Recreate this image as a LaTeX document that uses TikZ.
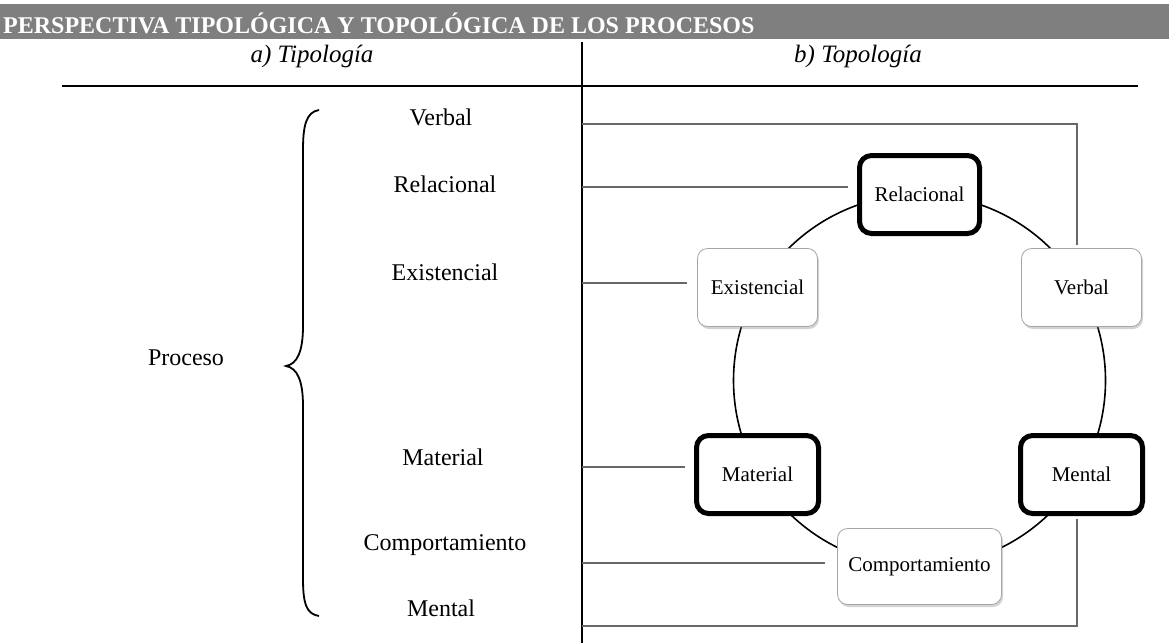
\documentclass[tikz,border=0pt]{standalone}
\usepackage{fontspec}
\setmainfont{Liberation Serif}
\usetikzlibrary{shadows,calc}
\definecolor{bargray}{HTML}{7F7F7F}
\definecolor{linkgray}{HTML}{686868}
\definecolor{softedge}{HTML}{A6A6A6}
\begin{document}
\begin{tikzpicture}[x=1pt,y=-1pt,
  item/.style={font=\fontsize{24}{28}\selectfont, inner sep=0pt, text height=0.68em, text depth=0pt},
  head/.style={font=\fontsize{25}{30}\selectfont\itshape, inner sep=0pt, anchor=base},
  strongbox/.style={draw=black, line width=5pt, rounded corners=12pt, fill=white,
    inner sep=0pt, font=\fontsize{21}{25}\selectfont},
  softbox/.style={draw=softedge, line width=0.8pt, rounded corners=10pt, fill=white,
    inner sep=0pt, font=\fontsize{21}{25}\selectfont,
    drop shadow={shadow xshift=1.5pt, shadow yshift=-2.5pt, opacity=0.35}},
  link/.style={draw=linkgray, line width=1.5pt},
  rule/.style={draw=black, line width=2.6pt},
]
\useasboundingbox (0,0) rectangle (1169,643);

% title bar
\fill[bargray] (0,4) rectangle (1169,39);
\node[anchor=base west, inner sep=0pt, text=white,
      font=\fontsize{24}{28}\selectfont\bfseries] (title) at (3,33)
  {PERSPECTIVA TIPOLÓGICA Y TOPOLÓGICA DE LOS PROCESOS};

% column headings and table rules
\node[head] (ha) at (312,62) {a) Tipología};
\node[head] (hb) at (858,62) {b) Topología};
\coordinate (ruleL) at (62,86);
\coordinate (ruleR) at (1138,86);
\coordinate (divT) at (582,42);
\coordinate (divB) at (582,643);
\draw[rule] (ruleL) -- (ruleR);
\draw[rule] (divT) -- (divB);

% a) typology: brace and list
\node[item] (proc) at (186,362) {Proceso};
\draw[line width=1.8pt]
  (319,110) .. controls (306,112) and (303,126) .. (303,150)
  -- (303,326) .. controls (303,352) and (297,364) .. (286,366)
  .. controls (297,368) and (303,380) .. (303,406)
  -- (303,578) .. controls (303,603) and (306,614) .. (319,616);
\node[item] (lverb) at (441,122) {Verbal};
\node[item] (lrel)  at (445,189) {Relacional};
\node[item] (lexi)  at (445,277) {Existencial};
\node[item] (lmat)  at (443,462) {Material};
\node[item] (lcom)  at (445,547) {Comportamiento};
\node[item] (lmen)  at (441,613) {Mental};

% b) topology: ring of processes
\draw[line width=1.6pt] (919.5,380.5) circle[radius=186];
\node[strongbox, minimum width=120pt, minimum height=78pt] (rel)  at (919.5,194.5) {Relacional};
\node[softbox,   minimum width=120pt, minimum height=78pt] (verb) at (1081.5,287.5) {Verbal};
\node[strongbox, minimum width=122pt, minimum height=78pt] (ment) at (1081.5,474.5) {Mental};
\node[softbox,   minimum width=164pt, minimum height=76pt] (comp) at (919.5,566.5) {Comportamiento};
\node[strongbox, minimum width=122pt, minimum height=78pt] (mat)  at (757.5,474.5) {Material};
\node[softbox,   minimum width=120pt, minimum height=78pt] (exi)  at (757.5,287.5) {Existencial};

% connectors from the divider to the ring
\coordinate (cVerb) at (582,124);
\coordinate (cRel)  at (582,187);
\coordinate (cExi)  at (582,283);
\coordinate (cMat)  at (582,467);
\coordinate (cCom)  at (582,563);
\coordinate (cMen)  at (582,626);
\draw[link] (cVerb) -| ([xshift=-4.5pt,yshift=3pt]verb.north);
\draw[link] (cRel) -- ([xshift=-9pt]cRel -| rel.west);
\draw[link] (cExi) -- ([xshift=-10pt]cExi -| exi.west);
\draw[link] (cMat) -- ([xshift=-9pt]cMat -| mat.west);
\draw[link] (cCom) -- ([xshift=-12pt]cCom -| comp.west);
\draw[link] (cMen) -| ([xshift=-4.5pt,yshift=-3pt]ment.south);
\end{tikzpicture}
\end{document}
